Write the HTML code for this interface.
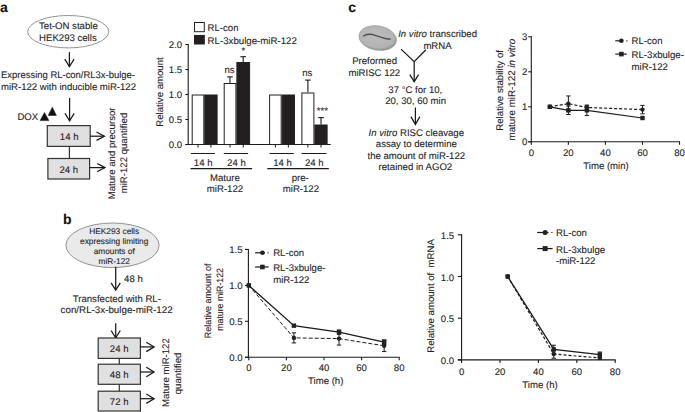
<!DOCTYPE html>
<html><head><meta charset="utf-8"><style>
html,body{margin:0;padding:0;background:#fff;}
body{width:685px;height:412px;overflow:hidden;}
svg{display:block;font-family:"Liberation Sans",sans-serif;text-rendering:geometricPrecision;}
text{stroke:#2a2a2a;stroke-width:0.1px;}
</style></head><body>
<svg width="685" height="412" viewBox="0 0 685 412" fill="#222">
<rect width="685" height="412" fill="#fff"/>
<text x="0" y="11.9" font-size="14" font-weight="bold" fill="#111" >a</text>
<ellipse cx="68.2" cy="31.7" rx="40.5" ry="16.2" fill="#fff" stroke="#777" stroke-width="0.8"/>
<text x="68.4" y="29.4" font-size="9.6" text-anchor="middle" >Tet-ON stable</text>
<text x="67.9" y="40.6" font-size="9.6" text-anchor="middle" >HEK293 cells</text>
<line x1="69.4" y1="52.2" x2="69.4" y2="66.6" stroke="#1a1a1a" stroke-width="1.25"/>
<polyline points="64.7,59.199999999999996 69.4,66.6 74.10000000000001,59.199999999999996" fill="none" stroke="#1a1a1a" stroke-width="1.25" stroke-linejoin="miter"/>
<text x="1" y="78.3" font-size="9.6" textLength="134" lengthAdjust="spacingAndGlyphs" >Expressing RL-con/RL3x-bulge-</text>
<text x="1" y="89.6" font-size="9.6" textLength="135" lengthAdjust="spacingAndGlyphs" >miR-122 with inducible miR-122</text>
<line x1="69.6" y1="97.9" x2="69.6" y2="120.8" stroke="#1a1a1a" stroke-width="1.25"/>
<polyline points="65.0,113.3 69.6,120.8 74.19999999999999,113.3" fill="none" stroke="#1a1a1a" stroke-width="1.25" stroke-linejoin="miter"/>
<text x="17.4" y="120.3" font-size="9.6" >DOX</text>
<polygon points="40.1,120.6 44.5,112.4 48.9,120.6" fill="#111" stroke="#111" stroke-width="0.5" stroke-linejoin="miter"/>
<polygon points="48.2,115.4 52.3,107.2 56.4,115.4" fill="#111" stroke="#111" stroke-width="0.5" stroke-linejoin="miter"/>
<rect x="47.3" y="125.6" width="42.900000000000006" height="20.80000000000001" fill="#e0e0e0" stroke="#333" stroke-width="1.2"/>
<text x="69.2" y="139.6" font-size="9.6" text-anchor="middle" >14 h</text>
<line x1="90.2" y1="136.2" x2="104.4" y2="136.2" stroke="#1a1a1a" stroke-width="1.25"/>
<polyline points="96.5,132.0 104.4,136.2 96.5,140.39999999999998" fill="none" stroke="#1a1a1a" stroke-width="1.25" stroke-linejoin="miter"/>
<line x1="69.4" y1="146.4" x2="69.4" y2="158.5" stroke="#333" stroke-width="1.2"/>
<rect x="47.9" y="158.5" width="41.699999999999996" height="20.5" fill="#e0e0e0" stroke="#333" stroke-width="1.2"/>
<text x="68.8" y="172.8" font-size="9.6" text-anchor="middle" >24 h</text>
<line x1="89.9" y1="167.6" x2="105.0" y2="167.6" stroke="#1a1a1a" stroke-width="1.25"/>
<polyline points="97.1,163.5 105.0,167.6 97.1,171.7" fill="none" stroke="#1a1a1a" stroke-width="1.25" stroke-linejoin="miter"/>
<text x="114.8" y="153.4" font-size="9.6" text-anchor="middle" transform="rotate(-90 114.8 153.4)" >Mature and precursor</text>
<text x="126.8" y="153.0" font-size="9.6" text-anchor="middle" transform="rotate(-90 126.8 153.0)" >miR-122 quantified</text>
<line x1="188.2" y1="44.0" x2="188.2" y2="145.0" stroke="#1a1a1a" stroke-width="1.1"/>
<line x1="185.39999999999998" y1="44.5" x2="188.2" y2="44.5" stroke="#1a1a1a" stroke-width="1.1"/>
<text x="182.2" y="48.1" font-size="9.6" text-anchor="end" >2.0</text>
<line x1="185.39999999999998" y1="69.5" x2="188.2" y2="69.5" stroke="#1a1a1a" stroke-width="1.1"/>
<text x="182.2" y="73.1" font-size="9.6" text-anchor="end" >1.5</text>
<line x1="185.39999999999998" y1="94.5" x2="188.2" y2="94.5" stroke="#1a1a1a" stroke-width="1.1"/>
<text x="182.2" y="98.1" font-size="9.6" text-anchor="end" >1.0</text>
<line x1="185.39999999999998" y1="119.5" x2="188.2" y2="119.5" stroke="#1a1a1a" stroke-width="1.1"/>
<text x="182.2" y="123.1" font-size="9.6" text-anchor="end" >0.5</text>
<line x1="185.39999999999998" y1="144.5" x2="188.2" y2="144.5" stroke="#1a1a1a" stroke-width="1.1"/>
<text x="182.2" y="148.1" font-size="9.6" text-anchor="end" >0.0</text>
<line x1="185.39999999999998" y1="144.5" x2="330.7" y2="144.5" stroke="#1a1a1a" stroke-width="1.1"/>
<rect x="192.2" y="95.0" width="11.600000000000023" height="49.5" fill="#fff" stroke="#231f20" stroke-width="1"/>
<line x1="198.0" y1="144.5" x2="198.0" y2="147.5" stroke="#1a1a1a" stroke-width="1"/>
<rect x="204.8" y="95.0" width="12.299999999999983" height="49.5" fill="#231f20" stroke="#231f20" stroke-width="1"/>
<line x1="210.95" y1="144.5" x2="210.95" y2="147.5" stroke="#1a1a1a" stroke-width="1"/>
<rect x="224.2" y="83.5" width="11.700000000000017" height="61.0" fill="#fff" stroke="#231f20" stroke-width="1"/>
<line x1="230.05" y1="144.5" x2="230.05" y2="147.5" stroke="#1a1a1a" stroke-width="1"/>
<rect x="236.9" y="62.5" width="12.699999999999989" height="82.0" fill="#231f20" stroke="#231f20" stroke-width="1"/>
<line x1="243.25" y1="144.5" x2="243.25" y2="147.5" stroke="#1a1a1a" stroke-width="1"/>
<rect x="269.6" y="95.0" width="11.599999999999966" height="49.5" fill="#fff" stroke="#231f20" stroke-width="1"/>
<line x1="275.4" y1="144.5" x2="275.4" y2="147.5" stroke="#1a1a1a" stroke-width="1"/>
<rect x="282.2" y="95.0" width="12.300000000000011" height="49.5" fill="#231f20" stroke="#231f20" stroke-width="1"/>
<line x1="288.35" y1="144.5" x2="288.35" y2="147.5" stroke="#1a1a1a" stroke-width="1"/>
<rect x="301.9" y="93.0" width="12.0" height="51.5" fill="#fff" stroke="#231f20" stroke-width="1"/>
<line x1="307.9" y1="144.5" x2="307.9" y2="147.5" stroke="#1a1a1a" stroke-width="1"/>
<rect x="314.9" y="125.0" width="12.200000000000045" height="19.5" fill="#231f20" stroke="#231f20" stroke-width="1"/>
<line x1="321.0" y1="144.5" x2="321.0" y2="147.5" stroke="#1a1a1a" stroke-width="1"/>
<line x1="230.0" y1="76.9" x2="230.0" y2="83.1" stroke="#1a1a1a" stroke-width="1.1"/>
<line x1="227.2" y1="76.9" x2="232.8" y2="76.9" stroke="#1a1a1a" stroke-width="1.1"/>
<line x1="243.2" y1="56.7" x2="243.2" y2="61.9" stroke="#1a1a1a" stroke-width="1.1"/>
<line x1="240.39999999999998" y1="56.7" x2="246.0" y2="56.7" stroke="#1a1a1a" stroke-width="1.1"/>
<line x1="307.9" y1="80.1" x2="307.9" y2="92.3" stroke="#1a1a1a" stroke-width="1.1"/>
<line x1="305.09999999999997" y1="80.1" x2="310.7" y2="80.1" stroke="#1a1a1a" stroke-width="1.1"/>
<line x1="321.0" y1="117.6" x2="321.0" y2="124.4" stroke="#1a1a1a" stroke-width="1.1"/>
<line x1="318.2" y1="117.6" x2="323.8" y2="117.6" stroke="#1a1a1a" stroke-width="1.1"/>
<text x="229.5" y="72.8" font-size="9.6" text-anchor="middle" >ns</text>
<text x="243.3" y="53.8" font-size="9.6" text-anchor="middle" >*</text>
<text x="307.2" y="75.5" font-size="9.6" text-anchor="middle" >ns</text>
<text x="322.3" y="114.0" font-size="9.6" text-anchor="middle" >***</text>
<line x1="190.9" y1="153.5" x2="214.8" y2="153.5" stroke="#1a1a1a" stroke-width="1.05"/>
<line x1="223.8" y1="153.5" x2="248.1" y2="153.5" stroke="#1a1a1a" stroke-width="1.05"/>
<line x1="269.5" y1="153.5" x2="293.8" y2="153.5" stroke="#1a1a1a" stroke-width="1.05"/>
<line x1="301.5" y1="153.5" x2="326.5" y2="153.5" stroke="#1a1a1a" stroke-width="1.05"/>
<text x="203.2" y="165.5" font-size="9.6" text-anchor="middle" >14 h</text>
<text x="236.4" y="165.5" font-size="9.6" text-anchor="middle" >24 h</text>
<text x="282.6" y="165.5" font-size="9.6" text-anchor="middle" >14 h</text>
<text x="314.3" y="165.5" font-size="9.6" text-anchor="middle" >24 h</text>
<line x1="190.5" y1="168.6" x2="252.1" y2="168.6" stroke="#1a1a1a" stroke-width="1.1"/>
<line x1="267.3" y1="168.6" x2="328.8" y2="168.6" stroke="#1a1a1a" stroke-width="1.1"/>
<text x="224.9" y="181.2" font-size="9.6" text-anchor="middle" >Mature</text>
<text x="225.0" y="191.8" font-size="9.6" text-anchor="middle" >miR-122</text>
<text x="300.2" y="181.2" font-size="9.6" text-anchor="middle" >pre-</text>
<text x="300.9" y="191.8" font-size="9.6" text-anchor="middle" >miR-122</text>
<rect x="194.5" y="22.5" width="9.800000000000011" height="9.2" fill="#fff" stroke="#231f20" stroke-width="1"/>
<rect x="194.5" y="35.4" width="9.800000000000011" height="8.600000000000001" fill="#231f20" stroke="#231f20" stroke-width="1"/>
<text x="207.6" y="30.6" font-size="9.6" >RL-con</text>
<text x="207.6" y="43.6" font-size="9.6" textLength="89.2" lengthAdjust="spacingAndGlyphs" >RL-3xbulge-miR-122</text>
<text x="163.0" y="92.0" font-size="9.6" text-anchor="middle" transform="rotate(-90 163.0 92.0)" >Relative amount</text>
<text x="348.2" y="12.2" font-size="14" font-weight="bold" fill="#111" >c</text>
<defs><radialGradient id="eg" cx="0.45" cy="0.42" r="0.58"><stop offset="0" stop-color="#bdbdbd"/><stop offset="0.82" stop-color="#b3b3b3"/><stop offset="1" stop-color="#8f8f8f"/></radialGradient></defs>
<ellipse cx="377.7" cy="38.05" rx="19.0" ry="12.2" transform="rotate(10 377.7 38.05)" fill="url(#eg)" stroke="#9a9a9a" stroke-width="0.6"/>
<path d="M363.1,36.3 C366,34 371,33.8 376,35.6 C381,37.4 386,39.8 390.7,38.8" fill="none" stroke="#505050" stroke-width="1.3"/>
<text x="398.2" y="36.7" font-size="9.6" textLength="78.8" lengthAdjust="spacingAndGlyphs"><tspan font-style="italic">In vitro</tspan> transcribed</text>
<text x="437.5" y="48.9" font-size="9.6" text-anchor="middle" >mRNA</text>
<text x="374.6" y="64.0" font-size="9.6" text-anchor="middle" >Preformed</text>
<text x="374.3" y="75.6" font-size="9.6" text-anchor="middle" >miRISC 122</text>
<polyline points="401,49.1 414.2,61.7 425.9,49.7" fill="none" stroke="#1a1a1a" stroke-width="1.25" stroke-linejoin="miter"/>
<line x1="414.2" y1="61.7" x2="414.2" y2="81.7" stroke="#1a1a1a" stroke-width="1.25"/>
<polyline points="409.8,74.60000000000001 414.2,81.7 418.59999999999997,74.60000000000001" fill="none" stroke="#1a1a1a" stroke-width="1.25" stroke-linejoin="miter"/>
<text x="415.3" y="93.1" font-size="9.6" text-anchor="middle" >37 °C for 10,</text>
<text x="415.6" y="104.2" font-size="9.6" text-anchor="middle" >20, 30, 60 min</text>
<line x1="415.4" y1="107.6" x2="415.4" y2="124.4" stroke="#1a1a1a" stroke-width="1.25"/>
<polyline points="410.9,116.60000000000001 415.4,124.4 419.9,116.60000000000001" fill="none" stroke="#1a1a1a" stroke-width="1.25" stroke-linejoin="miter"/>
<text x="416.3" y="136.1" font-size="9.6" text-anchor="middle"><tspan font-style="italic">In vitro</tspan> RISC cleavage</text>
<text x="416.4" y="147.1" font-size="9.6" text-anchor="middle" >assay to determine</text>
<text x="416.3" y="158.5" font-size="9.6" text-anchor="middle" >the amount of miR-122</text>
<text x="415.4" y="169.9" font-size="9.6" text-anchor="middle" >retained in AGO2</text>
<line x1="531.3" y1="36.30000000000001" x2="531.3" y2="141.8" stroke="#1a1a1a" stroke-width="1.1"/>
<line x1="528.3" y1="141.8" x2="531.3" y2="141.8" stroke="#1a1a1a" stroke-width="1.1"/>
<text x="527.4" y="145.4" font-size="9.6" text-anchor="end" >0</text>
<line x1="528.3" y1="106.80000000000001" x2="531.3" y2="106.80000000000001" stroke="#1a1a1a" stroke-width="1.1"/>
<text x="527.4" y="110.4" font-size="9.6" text-anchor="end" >1</text>
<line x1="528.3" y1="71.80000000000001" x2="531.3" y2="71.80000000000001" stroke="#1a1a1a" stroke-width="1.1"/>
<text x="527.4" y="75.4" font-size="9.6" text-anchor="end" >2</text>
<line x1="528.3" y1="36.80000000000001" x2="531.3" y2="36.80000000000001" stroke="#1a1a1a" stroke-width="1.1"/>
<text x="527.4" y="40.4" font-size="9.6" text-anchor="end" >3</text>
<line x1="528.3" y1="141.8" x2="680.04" y2="141.8" stroke="#1a1a1a" stroke-width="1.1"/>
<line x1="531.3" y1="141.8" x2="531.3" y2="144.8" stroke="#1a1a1a" stroke-width="1.1"/>
<text x="531.3" y="156.4" font-size="9.6" text-anchor="middle" >0</text>
<line x1="568.3599999999999" y1="141.8" x2="568.3599999999999" y2="144.8" stroke="#1a1a1a" stroke-width="1.1"/>
<text x="568.3599999999999" y="156.4" font-size="9.6" text-anchor="middle" >20</text>
<line x1="605.42" y1="141.8" x2="605.42" y2="144.8" stroke="#1a1a1a" stroke-width="1.1"/>
<text x="605.42" y="156.4" font-size="9.6" text-anchor="middle" >40</text>
<line x1="642.4799999999999" y1="141.8" x2="642.4799999999999" y2="144.8" stroke="#1a1a1a" stroke-width="1.1"/>
<text x="642.4799999999999" y="156.4" font-size="9.6" text-anchor="middle" >60</text>
<line x1="679.54" y1="141.8" x2="679.54" y2="144.8" stroke="#1a1a1a" stroke-width="1.1"/>
<text x="679.54" y="156.4" font-size="9.6" text-anchor="middle" >80</text>
<text x="606.0" y="169.1" font-size="9.6" text-anchor="middle" >Time (min)</text>
<text x="503.2" y="90.4" font-size="9.7" text-anchor="middle" transform="rotate(-90 503.2 90.4)" >Relative stability of</text>
<text x="514.6" y="89.6" font-size="9.8" text-anchor="middle" transform="rotate(-90 514.6 89.6)">mature miR-122 <tspan font-style="italic">in vitro</tspan></text>
<polyline points="549.8299999999999,106.80000000000001 568.3599999999999,103.65 586.89,107.50000000000001 642.4799999999999,109.60000000000001" fill="none" stroke="#1a1a1a" stroke-width="1.2" stroke-dasharray="3,2" stroke-linejoin="miter"/>
<polyline points="549.8299999999999,106.80000000000001 568.3599999999999,110.30000000000001 586.89,110.30000000000001 642.4799999999999,118.00000000000001" fill="none" stroke="#1a1a1a" stroke-width="1.2" stroke-linejoin="miter"/>
<line x1="568.3599999999999" y1="95.95000000000002" x2="568.3599999999999" y2="111.35000000000001" stroke="#1a1a1a" stroke-width="1"/>
<line x1="566.1599999999999" y1="95.95000000000002" x2="570.56" y2="95.95000000000002" stroke="#1a1a1a" stroke-width="1"/>
<line x1="566.1599999999999" y1="111.35000000000001" x2="570.56" y2="111.35000000000001" stroke="#1a1a1a" stroke-width="1"/>
<line x1="586.89" y1="105.75" x2="586.89" y2="109.25000000000001" stroke="#1a1a1a" stroke-width="1"/>
<line x1="584.6899999999999" y1="105.75" x2="589.09" y2="105.75" stroke="#1a1a1a" stroke-width="1"/>
<line x1="584.6899999999999" y1="109.25000000000001" x2="589.09" y2="109.25000000000001" stroke="#1a1a1a" stroke-width="1"/>
<line x1="642.4799999999999" y1="105.4" x2="642.4799999999999" y2="113.80000000000001" stroke="#1a1a1a" stroke-width="1"/>
<line x1="640.2799999999999" y1="105.4" x2="644.68" y2="105.4" stroke="#1a1a1a" stroke-width="1"/>
<line x1="640.2799999999999" y1="113.80000000000001" x2="644.68" y2="113.80000000000001" stroke="#1a1a1a" stroke-width="1"/>
<line x1="568.3599999999999" y1="106.10000000000001" x2="568.3599999999999" y2="114.50000000000001" stroke="#1a1a1a" stroke-width="1"/>
<line x1="566.1599999999999" y1="106.10000000000001" x2="570.56" y2="106.10000000000001" stroke="#1a1a1a" stroke-width="1"/>
<line x1="566.1599999999999" y1="114.50000000000001" x2="570.56" y2="114.50000000000001" stroke="#1a1a1a" stroke-width="1"/>
<line x1="586.89" y1="105.05000000000001" x2="586.89" y2="115.55000000000001" stroke="#1a1a1a" stroke-width="1"/>
<line x1="584.6899999999999" y1="105.05000000000001" x2="589.09" y2="105.05000000000001" stroke="#1a1a1a" stroke-width="1"/>
<line x1="584.6899999999999" y1="115.55000000000001" x2="589.09" y2="115.55000000000001" stroke="#1a1a1a" stroke-width="1"/>
<circle cx="549.8299999999999" cy="106.80000000000001" r="2.2" fill="#222"/>
<circle cx="568.3599999999999" cy="103.65" r="2.2" fill="#222"/>
<circle cx="586.89" cy="107.50000000000001" r="2.2" fill="#222"/>
<circle cx="642.4799999999999" cy="109.60000000000001" r="2.2" fill="#222"/>
<rect x="547.6299999999999" y="104.60000000000001" width="4.4" height="4.4" fill="#222"/>
<rect x="566.1599999999999" y="108.10000000000001" width="4.4" height="4.4" fill="#222"/>
<rect x="584.6899999999999" y="108.10000000000001" width="4.4" height="4.4" fill="#222"/>
<rect x="640.2799999999999" y="115.80000000000001" width="4.4" height="4.4" fill="#222"/>
<line x1="615.3" y1="40.8" x2="623.0" y2="40.8" stroke="#1a1a1a" stroke-width="1.2"/>
<line x1="626.0" y1="40.8" x2="627.6" y2="40.8" stroke="#666" stroke-width="1.2"/>
<circle cx="621.4" cy="40.8" r="2.3" fill="#222"/>
<text x="631.6" y="43.7" font-size="9.6" >RL-con</text>
<line x1="615.3" y1="54.1" x2="626.8" y2="54.1" stroke="#1a1a1a" stroke-width="1.2"/>
<rect x="619.1" y="51.800000000000004" width="4.6" height="4.6" fill="#222"/>
<text x="631.6" y="57.7" font-size="9.6" >RL-3xbulge-</text>
<text x="631.6" y="69.5" font-size="9.6" >miR-122</text>
<text x="62.9" y="223.9" font-size="14" font-weight="bold" fill="#111" >b</text>
<ellipse cx="112.5" cy="245.3" rx="46.6" ry="22.3" fill="#eaeaea" stroke="#777" stroke-width="0.8"/>
<text x="114.2" y="234.3" font-size="8.3" text-anchor="middle" >HEK293 cells</text>
<text x="114.2" y="244.1" font-size="8.3" text-anchor="middle" >expressing limiting</text>
<text x="114.2" y="254.2" font-size="8.3" text-anchor="middle" >amounts of</text>
<text x="114.2" y="264.0" font-size="8.3" text-anchor="middle" >miR-122</text>
<line x1="115.7" y1="266.7" x2="115.7" y2="290.2" stroke="#1a1a1a" stroke-width="1.25"/>
<polyline points="111.10000000000001,282.9 115.7,290.2 120.3,282.9" fill="none" stroke="#1a1a1a" stroke-width="1.25" stroke-linejoin="miter"/>
<text x="124.1" y="281.7" font-size="9.6" >48 h</text>
<text x="116.8" y="301.7" font-size="9.6" text-anchor="middle" >Transfected with RL-</text>
<text x="116.6" y="312.8" font-size="9.6" text-anchor="middle" textLength="112" lengthAdjust="spacingAndGlyphs" >con/RL-3x-bulge-miR-122</text>
<line x1="115.7" y1="323.3" x2="115.7" y2="337.8" stroke="#1a1a1a" stroke-width="1.25"/>
<polyline points="111.10000000000001,330.5 115.7,337.8 120.3,330.5" fill="none" stroke="#1a1a1a" stroke-width="1.25" stroke-linejoin="miter"/>
<rect x="98.2" y="338.0" width="42.2" height="20.399999999999977" fill="#e0e0e0" stroke="#333" stroke-width="1.2"/>
<text x="119.2" y="352.1" font-size="9.6" text-anchor="middle" >24 h</text>
<line x1="140.4" y1="346.9" x2="154.1" y2="346.9" stroke="#1a1a1a" stroke-width="1.25"/>
<polyline points="146.29999999999998,342.2 154.1,346.9 146.29999999999998,351.59999999999997" fill="none" stroke="#1a1a1a" stroke-width="1.25" stroke-linejoin="miter"/>
<rect x="98.2" y="364.2" width="42.2" height="20.100000000000023" fill="#e0e0e0" stroke="#333" stroke-width="1.2"/>
<text x="119.2" y="378.3" font-size="9.6" text-anchor="middle" >48 h</text>
<line x1="140.4" y1="372.0" x2="154.1" y2="372.0" stroke="#1a1a1a" stroke-width="1.25"/>
<polyline points="146.29999999999998,367.3 154.1,372.0 146.29999999999998,376.7" fill="none" stroke="#1a1a1a" stroke-width="1.25" stroke-linejoin="miter"/>
<rect x="98.2" y="391.2" width="42.2" height="19.80000000000001" fill="#e0e0e0" stroke="#333" stroke-width="1.2"/>
<text x="119.2" y="405.3" font-size="9.6" text-anchor="middle" >72 h</text>
<line x1="140.4" y1="398.7" x2="154.1" y2="398.7" stroke="#1a1a1a" stroke-width="1.25"/>
<polyline points="146.29999999999998,394.0 154.1,398.7 146.29999999999998,403.4" fill="none" stroke="#1a1a1a" stroke-width="1.25" stroke-linejoin="miter"/>
<line x1="119.3" y1="358.5" x2="119.3" y2="364.3" stroke="#333" stroke-width="1.2"/>
<line x1="119.3" y1="384.4" x2="119.3" y2="391.4" stroke="#333" stroke-width="1.2"/>
<text x="169.3" y="372.6" font-size="9.6" text-anchor="middle" transform="rotate(-90 169.3 372.6)" >Mature miR-122</text>
<text x="181.0" y="373.4" font-size="9.6" text-anchor="middle" transform="rotate(-90 181.0 373.4)" >quantified</text>
<line x1="248.4" y1="248.95" x2="248.4" y2="357.3" stroke="#1a1a1a" stroke-width="1.1"/>
<line x1="245.0" y1="249.45" x2="248.4" y2="249.45" stroke="#1a1a1a" stroke-width="1.1"/>
<text x="242.6" y="253.25" font-size="9.6" text-anchor="end" >1.5</text>
<line x1="245.0" y1="285.4" x2="248.4" y2="285.4" stroke="#1a1a1a" stroke-width="1.1"/>
<text x="242.6" y="289.2" font-size="9.6" text-anchor="end" >1.0</text>
<line x1="245.0" y1="321.35" x2="248.4" y2="321.35" stroke="#1a1a1a" stroke-width="1.1"/>
<text x="242.6" y="325.15" font-size="9.6" text-anchor="end" >0.5</text>
<line x1="245.0" y1="357.3" x2="248.4" y2="357.3" stroke="#1a1a1a" stroke-width="1.1"/>
<text x="242.6" y="361.1" font-size="9.6" text-anchor="end" >0.0</text>
<line x1="245.0" y1="357.3" x2="399.7" y2="357.3" stroke="#1a1a1a" stroke-width="1.1"/>
<line x1="248.8" y1="357.3" x2="248.8" y2="360.3" stroke="#1a1a1a" stroke-width="1.1"/>
<text x="248.8" y="371.2" font-size="9.6" text-anchor="middle" >0</text>
<line x1="286.4" y1="357.3" x2="286.4" y2="360.3" stroke="#1a1a1a" stroke-width="1.1"/>
<text x="286.4" y="371.2" font-size="9.6" text-anchor="middle" >20</text>
<line x1="324.0" y1="357.3" x2="324.0" y2="360.3" stroke="#1a1a1a" stroke-width="1.1"/>
<text x="324.0" y="371.2" font-size="9.6" text-anchor="middle" >40</text>
<line x1="361.6" y1="357.3" x2="361.6" y2="360.3" stroke="#1a1a1a" stroke-width="1.1"/>
<text x="361.6" y="371.2" font-size="9.6" text-anchor="middle" >60</text>
<line x1="399.2" y1="357.3" x2="399.2" y2="360.3" stroke="#1a1a1a" stroke-width="1.1"/>
<text x="399.2" y="371.2" font-size="9.6" text-anchor="middle" >80</text>
<text x="325.7" y="383.8" font-size="9.6" text-anchor="middle" >Time (h)</text>
<text x="211.2" y="300.9" font-size="9.2" text-anchor="middle" textLength="74.8" lengthAdjust="spacingAndGlyphs" transform="rotate(-90 211.2 300.9)" >Relative amount of</text>
<text x="223.3" y="299.4" font-size="9.2" text-anchor="middle" textLength="62.6" lengthAdjust="spacingAndGlyphs" transform="rotate(-90 223.3 299.4)" >mature miR-122</text>
<polyline points="248.8,285.4 293.92,337.887 339.04,338.606 384.15999999999997,345.796" fill="none" stroke="#1a1a1a" stroke-width="1.0" stroke-dasharray="4,2" stroke-linejoin="miter"/>
<polyline points="248.8,285.4 293.92,325.664 339.04,332.135 384.15999999999997,342.201" fill="none" stroke="#1a1a1a" stroke-width="1.3" stroke-linejoin="miter"/>
<line x1="293.92" y1="332.854" x2="293.92" y2="342.92" stroke="#1a1a1a" stroke-width="1"/>
<line x1="291.72" y1="332.854" x2="296.12" y2="332.854" stroke="#1a1a1a" stroke-width="1"/>
<line x1="291.72" y1="342.92" x2="296.12" y2="342.92" stroke="#1a1a1a" stroke-width="1"/>
<line x1="339.04" y1="332.135" x2="339.04" y2="345.077" stroke="#1a1a1a" stroke-width="1"/>
<line x1="336.84000000000003" y1="332.135" x2="341.24" y2="332.135" stroke="#1a1a1a" stroke-width="1"/>
<line x1="336.84000000000003" y1="345.077" x2="341.24" y2="345.077" stroke="#1a1a1a" stroke-width="1"/>
<line x1="384.15999999999997" y1="340.044" x2="384.15999999999997" y2="351.548" stroke="#1a1a1a" stroke-width="1"/>
<line x1="381.96" y1="340.044" x2="386.35999999999996" y2="340.044" stroke="#1a1a1a" stroke-width="1"/>
<line x1="381.96" y1="351.548" x2="386.35999999999996" y2="351.548" stroke="#1a1a1a" stroke-width="1"/>
<line x1="339.04" y1="329.978" x2="339.04" y2="334.29200000000003" stroke="#1a1a1a" stroke-width="1"/>
<line x1="336.84000000000003" y1="329.978" x2="341.24" y2="329.978" stroke="#1a1a1a" stroke-width="1"/>
<line x1="336.84000000000003" y1="334.29200000000003" x2="341.24" y2="334.29200000000003" stroke="#1a1a1a" stroke-width="1"/>
<line x1="384.15999999999997" y1="340.044" x2="384.15999999999997" y2="344.358" stroke="#1a1a1a" stroke-width="1"/>
<line x1="381.96" y1="340.044" x2="386.35999999999996" y2="340.044" stroke="#1a1a1a" stroke-width="1"/>
<line x1="381.96" y1="344.358" x2="386.35999999999996" y2="344.358" stroke="#1a1a1a" stroke-width="1"/>
<circle cx="248.8" cy="285.4" r="2.2" fill="#222"/>
<circle cx="293.92" cy="337.887" r="2.2" fill="#222"/>
<circle cx="339.04" cy="338.606" r="2.2" fill="#222"/>
<circle cx="384.15999999999997" cy="345.796" r="2.2" fill="#222"/>
<rect x="246.60000000000002" y="283.2" width="4.4" height="4.4" fill="#222"/>
<rect x="291.72" y="323.464" width="4.4" height="4.4" fill="#222"/>
<rect x="336.84000000000003" y="329.935" width="4.4" height="4.4" fill="#222"/>
<rect x="381.96" y="340.00100000000003" width="4.4" height="4.4" fill="#222"/>
<line x1="255.1" y1="252.8" x2="265.0" y2="252.8" stroke="#1a1a1a" stroke-width="1.2"/>
<line x1="267.3" y1="252.8" x2="268.9" y2="252.8" stroke="#666" stroke-width="1.2"/>
<circle cx="262.4" cy="252.8" r="2.3" fill="#222"/>
<text x="273.2" y="256.1" font-size="9.6" >RL-con</text>
<line x1="255.1" y1="267.0" x2="268.7" y2="267.0" stroke="#1a1a1a" stroke-width="1.2"/>
<rect x="260.09999999999997" y="264.7" width="4.6" height="4.6" fill="#222"/>
<text x="273.2" y="270.9" font-size="9.6" >RL-3xbulge-</text>
<text x="273.2" y="282.5" font-size="9.6" >miR-122</text>
<line x1="461.6" y1="234.29999999999995" x2="461.6" y2="359.9" stroke="#1a1a1a" stroke-width="1.1"/>
<line x1="457.8" y1="234.79999999999995" x2="461.6" y2="234.79999999999995" stroke="#1a1a1a" stroke-width="1.1"/>
<text x="454.2" y="239.0" font-size="9.6" text-anchor="end" >1.5</text>
<line x1="457.8" y1="276.5" x2="461.6" y2="276.5" stroke="#1a1a1a" stroke-width="1.1"/>
<text x="454.2" y="280.7" font-size="9.6" text-anchor="end" >1.0</text>
<line x1="457.8" y1="318.2" x2="461.6" y2="318.2" stroke="#1a1a1a" stroke-width="1.1"/>
<text x="454.2" y="322.4" font-size="9.6" text-anchor="end" >0.5</text>
<line x1="457.8" y1="359.9" x2="461.6" y2="359.9" stroke="#1a1a1a" stroke-width="1.1"/>
<text x="454.2" y="364.1" font-size="9.6" text-anchor="end" >0.0</text>
<line x1="457.8" y1="359.9" x2="615.7" y2="359.9" stroke="#1a1a1a" stroke-width="1.1"/>
<line x1="461.6" y1="359.9" x2="461.6" y2="362.9" stroke="#1a1a1a" stroke-width="1.1"/>
<text x="461.6" y="375.4" font-size="9.6" text-anchor="middle" >0</text>
<line x1="500.0" y1="359.9" x2="500.0" y2="362.9" stroke="#1a1a1a" stroke-width="1.1"/>
<text x="500.0" y="375.4" font-size="9.6" text-anchor="middle" >20</text>
<line x1="538.4" y1="359.9" x2="538.4" y2="362.9" stroke="#1a1a1a" stroke-width="1.1"/>
<text x="538.4" y="375.4" font-size="9.6" text-anchor="middle" >40</text>
<line x1="576.8" y1="359.9" x2="576.8" y2="362.9" stroke="#1a1a1a" stroke-width="1.1"/>
<text x="576.8" y="375.4" font-size="9.6" text-anchor="middle" >60</text>
<line x1="615.2" y1="359.9" x2="615.2" y2="362.9" stroke="#1a1a1a" stroke-width="1.1"/>
<text x="615.2" y="375.4" font-size="9.6" text-anchor="middle" >80</text>
<text x="540.0" y="388.0" font-size="9.6" text-anchor="middle" >Time (h)</text>
<text x="433.6" y="295.9" font-size="9.6" text-anchor="middle" transform="rotate(-90 433.6 295.9)" xml:space="preserve">Relative amount of  mRNA</text>
<polyline points="507.68,276.5 553.76,354.06199999999995 599.84,357.98179999999996" fill="none" stroke="#1a1a1a" stroke-width="1.2" stroke-dasharray="3,2" stroke-linejoin="miter"/>
<polyline points="507.68,276.5 553.76,349.3916 599.84,354.56239999999997" fill="none" stroke="#1a1a1a" stroke-width="1.3" stroke-linejoin="miter"/>
<line x1="553.76" y1="349.892" x2="553.76" y2="358.23199999999997" stroke="#1a1a1a" stroke-width="1"/>
<line x1="551.56" y1="349.892" x2="555.96" y2="349.892" stroke="#1a1a1a" stroke-width="1"/>
<line x1="551.56" y1="358.23199999999997" x2="555.96" y2="358.23199999999997" stroke="#1a1a1a" stroke-width="1"/>
<line x1="599.84" y1="356.7308" x2="599.84" y2="359.2328" stroke="#1a1a1a" stroke-width="1"/>
<line x1="597.64" y1="356.7308" x2="602.0400000000001" y2="356.7308" stroke="#1a1a1a" stroke-width="1"/>
<line x1="597.64" y1="359.2328" x2="602.0400000000001" y2="359.2328" stroke="#1a1a1a" stroke-width="1"/>
<line x1="553.76" y1="345.22159999999997" x2="553.76" y2="353.5616" stroke="#1a1a1a" stroke-width="1"/>
<line x1="551.56" y1="345.22159999999997" x2="555.96" y2="345.22159999999997" stroke="#1a1a1a" stroke-width="1"/>
<line x1="551.56" y1="353.5616" x2="555.96" y2="353.5616" stroke="#1a1a1a" stroke-width="1"/>
<line x1="599.84" y1="352.06039999999996" x2="599.84" y2="357.0644" stroke="#1a1a1a" stroke-width="1"/>
<line x1="597.64" y1="352.06039999999996" x2="602.0400000000001" y2="352.06039999999996" stroke="#1a1a1a" stroke-width="1"/>
<line x1="597.64" y1="357.0644" x2="602.0400000000001" y2="357.0644" stroke="#1a1a1a" stroke-width="1"/>
<circle cx="507.68" cy="276.5" r="2.2" fill="#222"/>
<circle cx="553.76" cy="354.06199999999995" r="2.2" fill="#222"/>
<circle cx="599.84" cy="357.98179999999996" r="2.2" fill="#222"/>
<rect x="505.48" y="274.3" width="4.4" height="4.4" fill="#222"/>
<rect x="551.56" y="347.1916" width="4.4" height="4.4" fill="#222"/>
<rect x="597.64" y="352.3624" width="4.4" height="4.4" fill="#222"/>
<line x1="537.2" y1="232.5" x2="548.5" y2="232.5" stroke="#1a1a1a" stroke-width="1.2"/>
<line x1="551.0" y1="232.5" x2="552.8" y2="232.5" stroke="#666" stroke-width="1.2"/>
<circle cx="545.1" cy="232.5" r="2.5" fill="#222"/>
<text x="556.0" y="236.2" font-size="9.6" >RL-con</text>
<line x1="537.2" y1="248.6" x2="552.6" y2="248.6" stroke="#1a1a1a" stroke-width="1.2"/>
<rect x="542.6" y="246.1" width="5.0" height="5.0" fill="#222"/>
<text x="556.0" y="252.8" font-size="9.6" >RL-3xbulge</text>
<text x="556.0" y="264.2" font-size="9.6" >-miR-122</text>
</svg>
</body></html>
